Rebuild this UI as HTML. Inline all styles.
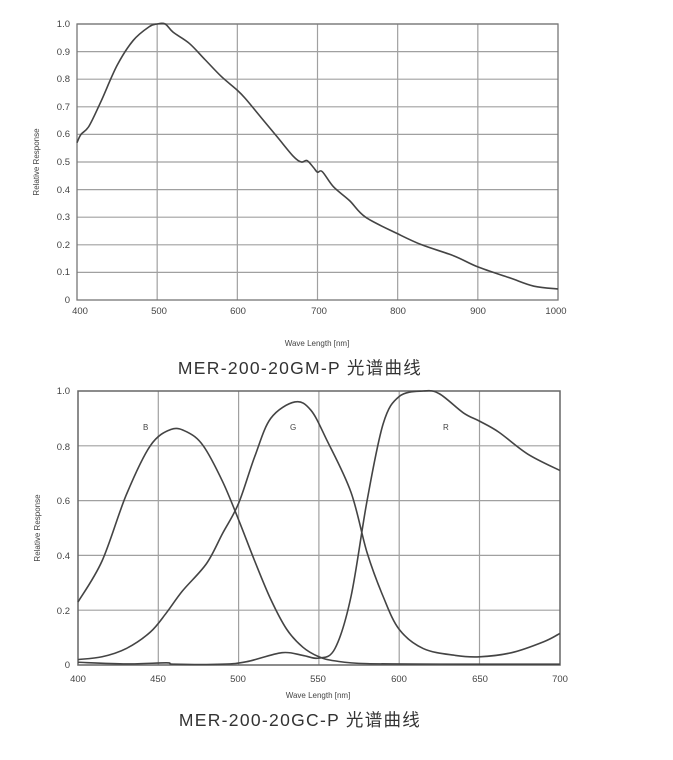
<!DOCTYPE html>
<html><head><meta charset="utf-8"><style>
html,body{margin:0;padding:0;background:#fff;width:673px;height:760px;overflow:hidden}
svg{display:block}
.t{font-family:"Liberation Sans",sans-serif;font-size:9.5px;fill:#444}
.a{font-family:"Liberation Sans",sans-serif;font-size:8px;fill:#444}
.c{font-family:"Liberation Sans","Noto Sans CJK SC",sans-serif;font-size:17.5px;fill:#333;letter-spacing:1.3px}
.g{stroke:#a0a0a0;stroke-width:1.2;fill:none}
.cv{stroke:#444;stroke-width:1.6;fill:none;stroke-linejoin:round}
</style></head><body>
<svg width="673" height="760" viewBox="0 0 673 760" xmlns="http://www.w3.org/2000/svg">
<g id="top">
<g class="g" id="tg"></g>
<rect x="77" y="24" width="481" height="276" fill="none" stroke="#777" stroke-width="1.3"/>
<g class="t" text-anchor="end">
<text x="70" y="27">1.0</text><text x="70" y="55">0.9</text><text x="70" y="82">0.8</text><text x="70" y="110">0.7</text><text x="70" y="137">0.6</text><text x="70" y="165">0.5</text><text x="70" y="193">0.4</text><text x="70" y="220">0.3</text><text x="70" y="248">0.2</text><text x="70" y="275">0.1</text><text x="70" y="303">0</text>
</g>
<g class="t" text-anchor="middle">
<text x="80" y="314">400</text><text x="159" y="314">500</text><text x="238" y="314">600</text><text x="319" y="314">700</text><text x="398" y="314">800</text><text x="478" y="314">900</text><text x="556" y="314">1000</text>
</g>
<text class="a" text-anchor="middle" x="317" y="346">Wave Length [nm]</text>
<text class="a" text-anchor="middle" transform="translate(39,162) rotate(-90)">Relative Response</text>
<path class="cv" id="tc"/>
<text class="c" text-anchor="middle" x="300" y="374">MER-200-20GM-P 光谱曲线</text>
</g>
<g id="bot">
<g class="g" id="bg"></g>
<rect x="78" y="391" width="482" height="274" fill="none" stroke="#666" stroke-width="1.5"/>
<g class="t" text-anchor="end">
<text x="70" y="394">1.0</text><text x="70" y="450">0.8</text><text x="70" y="504">0.6</text><text x="70" y="559">0.4</text><text x="70" y="614">0.2</text><text x="70" y="668">0</text>
</g>
<g class="t" text-anchor="middle">
<text x="78" y="682">400</text><text x="158" y="682">450</text><text x="238" y="682">500</text><text x="318" y="682">550</text><text x="399" y="682">600</text><text x="480" y="682">650</text><text x="560" y="682">700</text>
</g>
<text class="a" text-anchor="middle" x="318" y="698">Wave Length [nm]</text>
<text class="a" text-anchor="middle" transform="translate(40,528) rotate(-90)">Relative Response</text>
<g class="a"><text x="143" y="430">B</text><text x="290" y="430">G</text><text x="443" y="430">R</text></g>
<path class="cv" id="b1"/><path class="cv" id="b2"/><path class="cv" id="b3"/>
<text class="c" text-anchor="middle" x="300" y="726">MER-200-20GC-P 光谱曲线</text>
</g>
</svg>
<script>
function mk(pts,fx,fy){var s=pts.map(function(p){return [fx(p[0]),fy(p[1])];});
var d="M"+s[0][0]+","+s[0][1];
for(var i=0;i<s.length-1;i++){var p0=s[i-1]||s[i],p1=s[i],p2=s[i+1],p3=s[i+2]||p2;
d+=" C"+(p1[0]+(p2[0]-p0[0])/6)+","+(p1[1]+(p2[1]-p0[1])/6)+" "+(p2[0]-(p3[0]-p1[0])/6)+","+(p2[1]-(p3[1]-p1[1])/6)+" "+p2[0]+","+p2[1];}
return d;}
var tx=function(w){return 77+(w-400)*481/600},ty=function(v){return 300-v*276};
var bx=function(w){return 78+(w-400)*1.606},by=function(v){return 665-v*274};
var g="";
for(var v=0.1;v<1;v+=0.1)g+='<line x1="77" x2="558" y1="'+ty(v)+'" y2="'+ty(v)+'"/>';
for(var w=500;w<1000;w+=100)g+='<line y1="24" y2="300" x1="'+tx(w)+'" x2="'+tx(w)+'"/>';
document.getElementById("tg").innerHTML=g;g="";
for(var v=0.2;v<1;v+=0.2)g+='<line x1="78" x2="560" y1="'+by(v)+'" y2="'+by(v)+'"/>';
for(var w=450;w<700;w+=50)g+='<line y1="391" y2="665" x1="'+bx(w)+'" x2="'+bx(w)+'"/>';
document.getElementById("bg").innerHTML=g;
document.getElementById("tc").setAttribute("d",mk([[400,.57],[405,.6],[415,.63],[430,.72],[450,.85],[470,.94],[490,.99],[500,1],[510,1],[520,.97],[540,.93],[560,.87],[580,.81],[600,.76],[610,.73],[630,.66],[650,.59],[670,.52],[680,.5],[687,.505],[695,.48],[700,.463],[706,.465],[720,.41],[740,.36],[760,.3],[800,.24],[830,.2],[870,.16],[900,.12],[940,.08],[970,.05],[1000,.04]],tx,ty));
document.getElementById("b1").setAttribute("d",mk([[400,.23],[415,.38],[430,.62],[445,.8],[458,.86],[468,.85],[478,.8],[490,.67],[500,.53],[510,.38],[520,.24],[530,.13],[540,.065],[550,.03],[560,.015],[580,.005],[640,.003],[700,.003]],bx,by));
document.getElementById("b2").setAttribute("d",mk([[400,.02],[415,.03],[430,.06],[445,.12],[455,.19],[465,.27],[480,.37],[490,.48],[500,.59],[510,.76],[520,.9],[535,.96],[545,.93],[555,.82],[570,.63],[580,.41],[590,.25],[600,.13],[615,.06],[635,.035],[650,.03],[670,.045],[690,.085],[700,.115]],bx,by));
document.getElementById("b3").setAttribute("d",mk([[400,.01],[430,.004],[455,.008],[460,.003],[490,.003],[505,.012],[527,.045],[540,.035],[550,.025],[560,.06],[570,.25],[580,.6],[590,.88],[600,.98],[615,1],[625,.99],[640,.92],[650,.89],[662,.85],[680,.77],[700,.71]],bx,by));
</script>
</body></html>
